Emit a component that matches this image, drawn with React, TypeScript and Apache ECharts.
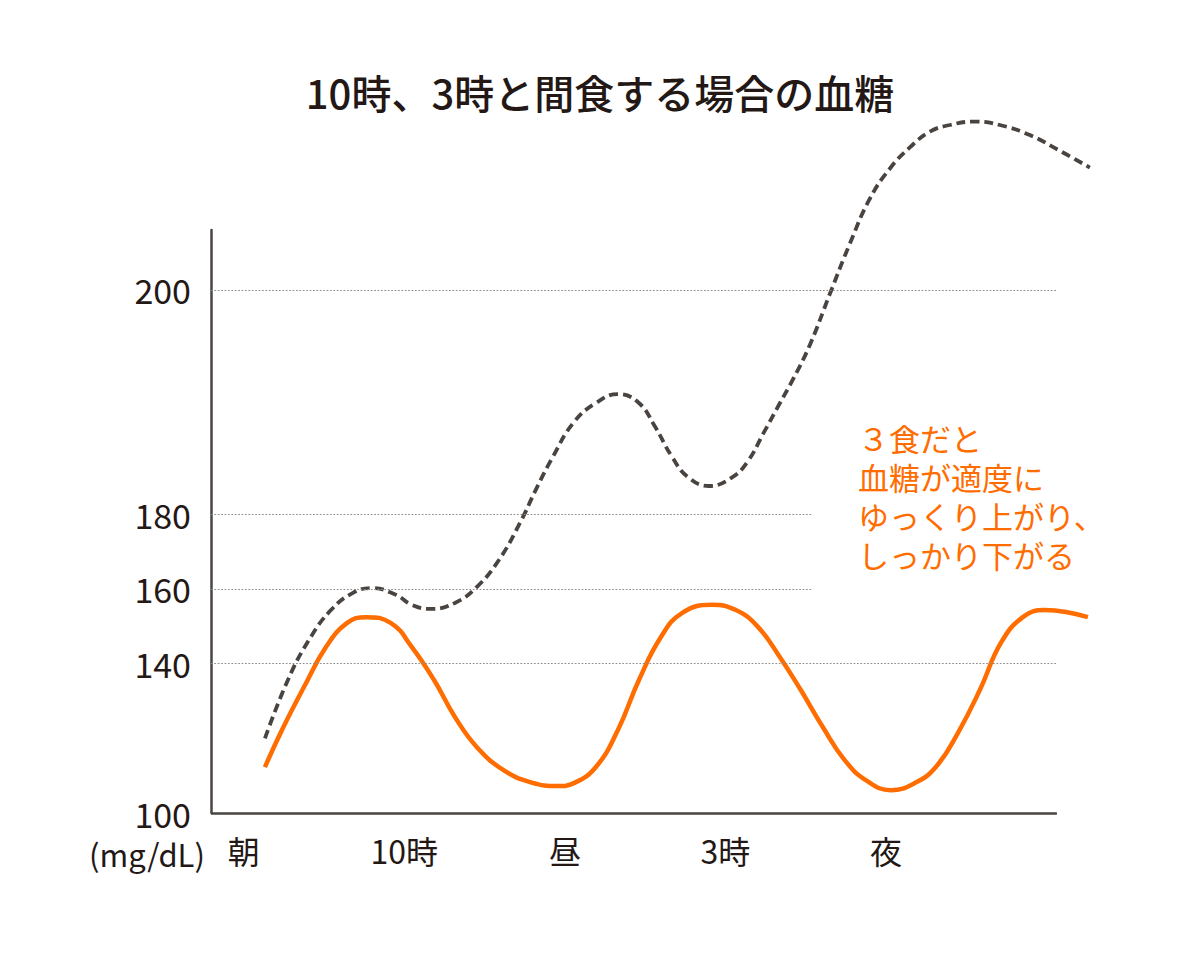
import React, { useEffect, useRef } from 'react';
import * as echarts from 'echarts';

// ---- data ----
const titleText = '10時、3時と間食する場合の血糖';
const categories = ['朝', '10時', '昼', '3時', '夜'];
const categoryPositions = [0, 1, 2, 3, 4];
const yTickValues = [100, 140, 160, 180, 200];
const fullGridValues = [200, 140];
const shortGridValues = [180, 160];
const unitLabel = '(mg/dL)';
const noteLines = ['３食だと', '血糖が適度に', 'ゆっくり上がり、', 'しっかり下がる'];

// snack (10時・3時) case — dashed
const snackX = [0.132, 0.275, 0.406, 0.543, 0.68, 0.798, 0.947, 1.047, 1.166, 1.315, 1.452, 1.589, 1.72, 1.82, 1.925, 2.056, 2.193, 2.33, 2.461, 2.561, 2.667, 2.766, 2.897, 3.034, 3.134, 3.24, 3.339, 3.42, 3.526, 3.649, 3.774, 3.898, 4.023, 4.148, 4.273, 4.397, 4.553, 4.708, 4.895, 5.082, 5.269];
const snackY = [120.0, 135.6, 146.3, 154.3, 158.9, 160.2, 158.4, 155.7, 154.6, 156.2, 160.5, 167.7, 177.6, 182.2, 185.1, 188.2, 189.9, 190.7, 189.9, 187.8, 185.1, 183.3, 182.5, 183.2, 184.6, 187.3, 189.9, 192.0, 195.1, 199.6, 204.1, 208.1, 210.8, 212.7, 214.1, 214.7, 215.0, 214.7, 213.8, 212.4, 210.9];

// three meals case — orange
const mealX = [0.132, 0.238, 0.375, 0.512, 0.642, 0.761, 0.917, 1.047, 1.185, 1.315, 1.452, 1.62, 1.788, 1.956, 2.056, 2.193, 2.33, 2.461, 2.598, 2.729, 2.915, 3.065, 3.202, 3.339, 3.469, 3.606, 3.743, 3.874, 4.03, 4.179, 4.31, 4.447, 4.584, 4.715, 4.852, 4.989, 5.12, 5.257];
const mealY = [112.3, 122.2, 133.7, 144.4, 150.8, 152.4, 150.8, 144.4, 135.6, 125.7, 117.6, 111.4, 108.2, 107.2, 108.0, 112.3, 122.2, 135.6, 147.1, 153.5, 155.7, 154.3, 149.8, 141.7, 132.9, 123.0, 114.1, 108.8, 106.1, 108.0, 112.3, 121.4, 132.9, 145.5, 152.4, 154.3, 153.8, 152.4];

// ---- axis geometry (the chart's y axis is stretched above 180) ----
const BREAK = 180;
const STRETCH = 3;
const toAxis = (v: number) => (v <= BREAK ? v : BREAK + (v - BREAK) * STRETCH);
const fromAxis = (u: number) => (u <= BREAK ? u : BREAK + (u - BREAK) / STRETCH);
const X_MIN = -0.204;
const X_MAX = 5.27;
const AXIS_END = 5.064;
const SHORT_GRID_END = 3.544;

const ORANGE = '#ff6c00';
const DARK = '#4a4441';
const TEXT = '#231815';
const FONT = '"Noto Sans CJK JP", "Noto Sans", sans-serif';

export default function App() {
  const ref = useRef<HTMLDivElement>(null);
  useEffect(() => {
    if (!ref.current) return;
    const chart = echarts.init(ref.current, undefined, { renderer: 'svg' });
    const hLine = (v: number, x1: number) => [
      { coord: [X_MIN, toAxis(v)] },
      { coord: [x1, toAxis(v)] },
    ];
    const noteTops = [422, 461, 500, 539];
    chart.setOption({
      animation: false,
      backgroundColor: '#ffffff',
      title: {
        text: titleText,
        left: 'center',
        top: 67,
        textStyle: { fontFamily: FONT, fontSize: 40, fontWeight: 500, color: TEXT },
      },
      grid: { left: 211, right: 110, top: 230, bottom: 156 },
      xAxis: {
        type: 'value',
        min: X_MIN,
        max: X_MAX,
        axisLine: { show: false },
        axisTick: { show: false },
        splitLine: { show: false },
        axisLabel: {
          customValues: categoryPositions,
          formatter: (val: number) => categories[Math.round(val)] ?? '',
          fontFamily: FONT,
          fontSize: 32,
          color: TEXT,
          margin: 21,
        },
      },
      yAxis: {
        type: 'value',
        min: 100,
        max: 256,
        axisLine: { show: true, onZero: false, lineStyle: { color: DARK, width: 2.5 } },
        axisTick: { show: false },
        splitLine: { show: false },
        axisLabel: {
          customValues: yTickValues.map(toAxis),
          formatter: (u: number) => String(Math.round(fromAxis(u))),
          fontFamily: FONT,
          fontSize: 34,
          color: TEXT,
          margin: 20,
        },
      },
      graphic: [
        {
          type: 'text',
          left: 89,
          top: 838,
          style: { text: unitLabel, font: `400 31px ${FONT}`, fill: TEXT },
        },
        ...noteLines.map((line, i) => ({
          type: 'text',
          left: 858,
          top: noteTops[i],
          style: { text: line, font: `400 31px ${FONT}`, fill: ORANGE, lineHeight: 31 },
        })),
      ],
      series: [
        {
          type: 'line',
          name: 'grid',
          data: [],
          silent: true,
          markLine: {
            silent: true,
            symbol: ['none', 'none'],
            label: { show: false },
            lineStyle: { color: '#8c8c8c', width: 1.2, type: [1.7, 1.7] },
            data: [
              ...fullGridValues.map((v) => hLine(v, AXIS_END)),
              ...shortGridValues.map((v) => hLine(v, SHORT_GRID_END)),
            ],
          },
        },
        {
          type: 'line',
          name: 'xAxisLine',
          data: [],
          silent: true,
          markLine: {
            silent: true,
            symbol: ['none', 'none'],
            label: { show: false },
            lineStyle: { color: DARK, width: 2.5, type: 'solid' },
            data: [hLine(100, AXIS_END)],
          },
        },
        {
          type: 'line',
          name: '間食',
          data: snackX.map((x, i) => [x, toAxis(snackY[i])]),
          smooth: 0.45,
          symbol: 'none',
          clip: false,
          lineStyle: { color: DARK, width: 3.8, type: [9, 5] },
        },
        {
          type: 'line',
          name: '3食',
          data: mealX.map((x, i) => [x, toAxis(mealY[i])]),
          smooth: 0.45,
          symbol: 'none',
          clip: false,
          lineStyle: { color: ORANGE, width: 4.5 },
        },
      ],
    });
    return () => chart.dispose();
  }, []);
  return (
    <div
      ref={ref}
      style={{ position: 'absolute', left: 0, top: 0, width: 1200, height: 969 }}
    />
  );
}
